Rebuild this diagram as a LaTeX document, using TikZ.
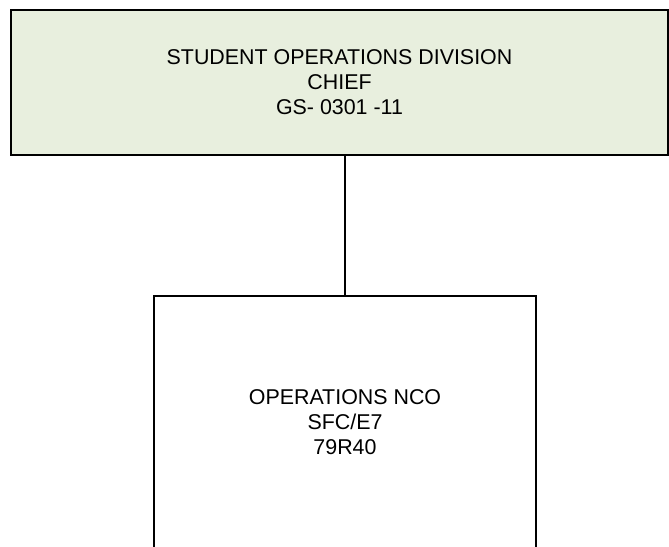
\documentclass[tikz,border=0pt]{standalone}
\usepackage{fontspec}
\setmainfont{Liberation Sans}
\usepackage{tikz}
\usetikzlibrary{positioning}
\definecolor{chiefgreen}{RGB}{232,239,222}
\tikzset{%
	orgbox/.style  = {draw, rectangle, line width=1.3pt, align=center, font=\fontsize{21.4}{25}\selectfont},
	chief/.style   = {orgbox, fill=chiefgreen, minimum width=657pt, minimum height=145pt},
	staff/.style   = {orgbox, minimum width=382pt, minimum height=252pt},
	link/.style    = {line width=1.2pt},
}
\begin{document}
\begin{tikzpicture}[x=1pt,y=-1pt]
		\clip (0,0) rectangle (669,546);
		\useasboundingbox (0,0) rectangle (669,546);
		\node[chief] (sod) at (339.5,82.5) {STUDENT OPERATIONS DIVISION\\CHIEF\\GS- 0301 -11};
		\node[staff] (nco) at (345,422) {OPERATIONS NCO\\SFC/E7\\79R40};
		
		\draw[link] (nco.north) -- (nco.north |- sod.south);
		
	\end{tikzpicture}
\end{document}
